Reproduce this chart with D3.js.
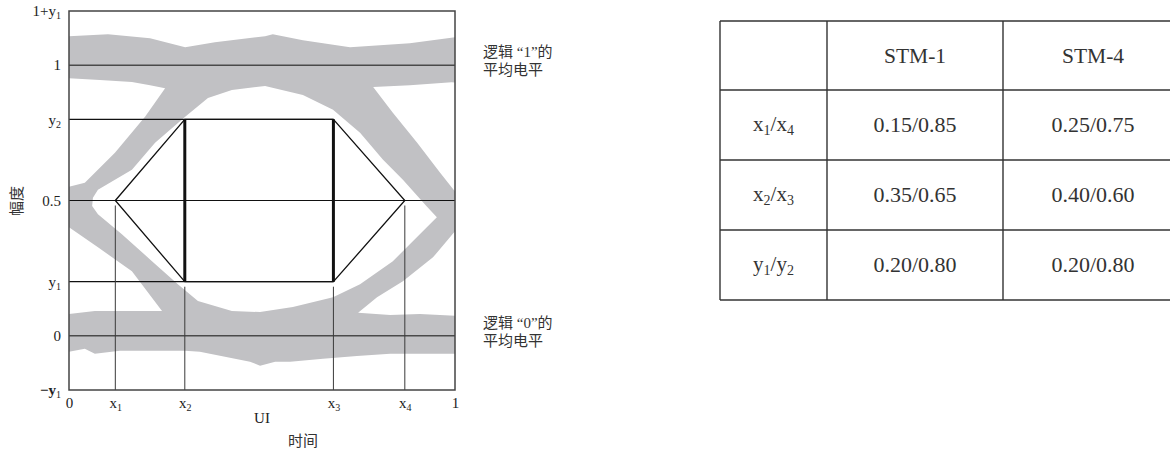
<!DOCTYPE html>
<html>
<head>
<meta charset="utf-8">
<script src="https://cdn.jsdelivr.net/npm/d3@7"></script>
<style>
  body { margin: 0; background: #fff; }
  svg { display: block; }
</style>
</head>
<body>
<div id="chart"></div>
<script>
// mask corners as drawn in the figure (UI, amplitude)
const maskX = [0.12, 0.30, 0.685, 0.87];
const maskY = [0.2, 0.8];

const yTicks = [1.2, 1, 0.8, 0.5, 0.2, 0, -0.2];
const yTickLabels = [["1+y", "1"], ["1", ""], ["y", "2"], ["0.5", ""], ["y", "1"], ["0", ""], ["\u2212y", "1"]];
const xTicks = [0, ...maskX, 1];
const xTickLabels = [["0", ""], ["x", "1"], ["x", "2"], ["x", "3"], ["x", "4"], ["1", ""]];

// grey eye-diagram area: outer outline, then the white holes inside it
const eyeOuter = [[0, 1.107], [0.101, 1.114], [0.21, 1.099], [0.301, 1.066], [0.378, 1.085], [0.508, 1.107],
  [0.528, 1.114], [0.606, 1.092], [0.728, 1.066], [0.883, 1.081], [1, 1.103], [1, -0.066], [0.832, -0.066],
  [0.746, -0.074], [0.658, -0.085], [0.573, -0.096], [0.534, -0.096], [0.495, -0.11], [0.469, -0.096],
  [0.339, -0.059], [0.301, -0.055], [0.132, -0.055], [0.067, -0.066], [0.041, -0.048], [0, -0.059]];
const gapTopLeft = [[0, 0.952], [0.08, 0.945], [0.163, 0.938], [0.21, 0.926], [0.249, 0.915],
  [0.197, 0.809], [0.119, 0.676], [0.041, 0.566], [0, 0.551]];
const gapTopRight = [[0.788, 0.919], [0.883, 0.926], [1, 0.938], [1, 0.533], [0.961, 0.603],
  [0.902, 0.713], [0.839, 0.824]];
const gapBottomLeft = [[0, 0.401], [0.075, 0.327], [0.163, 0.239], [0.241, 0.092], [0.067, 0.092], [0, 0.081]];
const gapBottomRight = [[0.749, 0.085], [0.798, 0.143], [0.865, 0.202], [0.943, 0.29], [1, 0.386],
  [1, 0.074], [0.909, 0.081], [0.832, 0.077]];
const eyeOpening = [[0.075, 0.54], [0.163, 0.614], [0.223, 0.713], [0.301, 0.809], [0.36, 0.879],
  [0.422, 0.908], [0.508, 0.923], [0.606, 0.89], [0.684, 0.835], [0.754, 0.75], [0.813, 0.651],
  [0.865, 0.577], [0.927, 0.478], [0.953, 0.438], [0.927, 0.401], [0.883, 0.338], [0.839, 0.276],
  [0.754, 0.191], [0.684, 0.143], [0.58, 0.107], [0.495, 0.088], [0.422, 0.092], [0.334, 0.129],
  [0.282, 0.191], [0.215, 0.276], [0.137, 0.375], [0.075, 0.449], [0.06, 0.48], [0.062, 0.51]];

const tableCols = ["", "STM-1", "STM-4"];
const tableRows = [["x", "1", "/x", "4"], ["x", "2", "/x", "3"], ["y", "1", "/y", "2"]];
const stm1 = ["0.15/0.85", "0.35/0.65", "0.20/0.80"];
const stm4 = ["0.25/0.75", "0.40/0.60", "0.20/0.80"];

const svg = d3.select("#chart")
  .append("svg")
  .attr("width", 1170)
  .attr("height", 451);

const serif = "'Liberation Serif', 'DejaVu Serif', serif";
const cjk = "'Noto Sans CJK SC', sans-serif";
const mixed = "'Liberation Serif', 'Noto Sans CJK SC', serif";

const x = d3.scaleLinear().domain([0, 1]).range([69, 455]);
const y = d3.scaleLinear().domain([-0.2, 1.2]).range([390, 11]);

// text with subscripts: parts = [base, sub, base, sub ...]
function writeParts(t, parts, subSize, shift) {
  let down = false;
  parts.forEach((p, i) => {
    if (!p) return;
    const sub = i % 2 === 1;
    const ts = t.append("tspan").text(p);
    if (sub) {
      ts.attr("font-size", subSize).attr("dy", shift);
      down = true;
    } else if (down) {
      ts.attr("dy", -shift);
      down = false;
    }
  });
}

// grey eye area
const line = d3.line().x(d => x(d[0])).y(d => y(d[1]));
const shapes = [eyeOuter, gapTopLeft, gapTopRight, gapBottomLeft, gapBottomRight, eyeOpening];
svg.append("path")
  .attr("d", shapes.map(s => line(s) + "Z").join(" "))
  .attr("fill", "#c1c1c4")
  .attr("fill-rule", "evenodd");

// level lines
svg.selectAll(".level")
  .data([1, 0])
  .enter()
  .append("line")
  .attr("x1", x(0)).attr("x2", x(1))
  .attr("y1", d => y(d)).attr("y2", d => y(d))
  .attr("stroke", "#4a4a4a")
  .attr("stroke-width", 1.5);

svg.append("line")
  .attr("x1", x(0)).attr("x2", x(1))
  .attr("y1", y(0.5)).attr("y2", y(0.5))
  .attr("stroke", "#111").attr("stroke-width", 1);

svg.selectAll(".ylim")
  .data(maskY)
  .enter()
  .append("line")
  .attr("x1", x(0)).attr("x2", x(maskX[2]))
  .attr("y1", d => y(d)).attr("y2", d => y(d))
  .attr("stroke", "#111").attr("stroke-width", 1.2);

// drop lines from mask corners
const dropStart = [0.5, maskY[0], maskY[0], 0.5];
svg.selectAll(".drop")
  .data(maskX)
  .enter()
  .append("line")
  .attr("x1", d => x(d)).attr("x2", d => x(d))
  .attr("y1", (d, i) => y(dropStart[i]) + 5)
  .attr("y2", y(-0.2))
  .attr("stroke", "#3a3a3a").attr("stroke-width", 1);

// mask hexagon
const hexagon = [[maskX[0], 0.5], [maskX[1], maskY[1]], [maskX[2], maskY[1]], [maskX[3], 0.5],
  [maskX[2], maskY[0]], [maskX[1], maskY[0]]];
svg.append("path")
  .attr("d", line(hexagon) + "Z")
  .attr("fill", "none")
  .attr("stroke", "#111")
  .attr("stroke-width", 1.3);

svg.selectAll(".side")
  .data([maskX[1], maskX[2]])
  .enter()
  .append("line")
  .attr("x1", d => x(d)).attr("x2", d => x(d))
  .attr("y1", y(maskY[0])).attr("y2", y(maskY[1]))
  .attr("stroke", "#111").attr("stroke-width", 3);

// frame
svg.append("rect")
  .attr("x", x(0)).attr("y", y(1.2))
  .attr("width", x(1) - x(0)).attr("height", y(-0.2) - y(1.2))
  .attr("fill", "none")
  .attr("stroke", "#444").attr("stroke-width", 1.5);

// axes
const yAxis = svg.append("g")
  .attr("transform", `translate(${x(0)},0)`)
  .call(d3.axisLeft(y).tickValues(yTicks).tickSize(0).tickPadding(8).tickFormat(""));
yAxis.select(".domain").remove();
yAxis.selectAll(".tick text")
  .attr("font-family", serif).attr("font-size", 15).attr("fill", "#222")
  .each(function (d, i) { writeParts(d3.select(this), yTickLabels[i], 10, 3); });
yAxis.selectAll(".tick text").filter(d => d === -0.2).select("tspan").attr("font-weight", "bold");

const xAxis = svg.append("g")
  .attr("transform", `translate(0,${y(-0.2)})`)
  .call(d3.axisBottom(x).tickValues(xTicks).tickSize(0).tickPadding(7).tickFormat(""));
xAxis.select(".domain").remove();
xAxis.selectAll(".tick text")
  .attr("font-family", serif).attr("font-size", 15).attr("fill", "#222")
  .each(function (d, i) { writeParts(d3.select(this), xTickLabels[i], 10, 3); });

svg.append("text")
  .attr("x", 262).attr("y", 423)
  .attr("text-anchor", "middle")
  .attr("font-family", serif).attr("font-size", 15).attr("fill", "#222")
  .text("UI");

svg.append("text")
  .attr("x", 303).attr("y", 446)
  .attr("text-anchor", "middle")
  .attr("font-family", cjk).attr("font-size", 15).attr("fill", "#333")
  .text("时间");

svg.append("text")
  .attr("transform", "translate(22,201) rotate(-90)")
  .attr("text-anchor", "middle")
  .attr("font-family", cjk).attr("font-size", 15).attr("fill", "#333")
  .text("幅度");

// level notes
const noteLevels = [1, 0];
noteLevels.forEach(lv => {
  const t = svg.append("text")
    .attr("x", 483).attr("y", y(lv) - 8)
    .attr("font-family", mixed).attr("font-size", 15).attr("fill", "#333");
  t.append("tspan").text(`逻辑 \u201C${lv}\u201D的`);
  t.append("tspan").attr("x", 483).attr("dy", 18).text("平均电平");
});

// table
const colEdges = [720, 827, 1003, 1183];
const rowEdges = [21, 90, 160, 230, 300];
const tbl = svg.append("g");

rowEdges.forEach(r => {
  tbl.append("line")
    .attr("x1", colEdges[0]).attr("x2", colEdges[3])
    .attr("y1", r).attr("y2", r)
    .attr("stroke", "#333").attr("stroke-width", 1.4);
});
colEdges.forEach(c => {
  tbl.append("line")
    .attr("x1", c).attr("x2", c)
    .attr("y1", rowEdges[0]).attr("y2", rowEdges[4])
    .attr("stroke", "#333").attr("stroke-width", 1.4);
});

const colMid = i => (colEdges[i] + colEdges[i + 1]) / 2;
const rowMid = i => (rowEdges[i] + rowEdges[i + 1]) / 2;

tbl.selectAll(".head")
  .data(tableCols)
  .enter()
  .append("text")
  .attr("x", (d, i) => colMid(i)).attr("y", rowMid(0) + 7)
  .attr("text-anchor", "middle")
  .attr("font-family", serif).attr("font-size", 21.5).attr("fill", "#333")
  .text(d => d);

tableRows.forEach((parts, i) => {
  const t = tbl.append("text")
    .attr("x", colMid(0)).attr("y", rowMid(i + 1) + 6)
    .attr("text-anchor", "middle")
    .attr("font-family", serif).attr("font-size", 21).attr("fill", "#333");
  writeParts(t, parts, 14, 4);
});

[stm1, stm4].forEach((vals, c) => {
  tbl.selectAll(".v" + c)
    .data(vals)
    .enter()
    .append("text")
    .attr("x", colMid(c + 1)).attr("y", (d, i) => rowMid(i + 1) + 7)
    .attr("text-anchor", "middle")
    .attr("font-family", serif).attr("font-size", 22).attr("fill", "#333")
    .text(d => d);
});
</script>
</body>
</html>
